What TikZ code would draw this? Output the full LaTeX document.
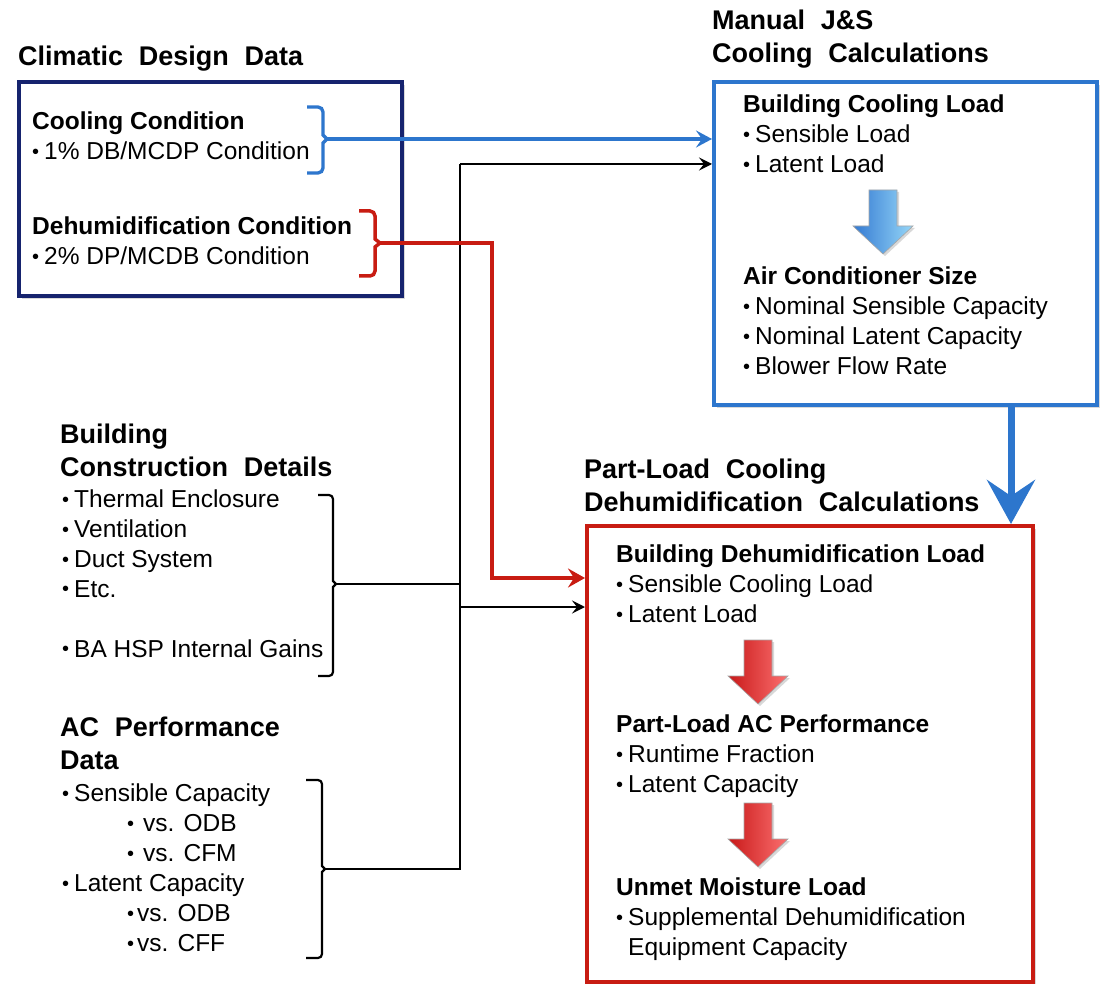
\documentclass[tikz,border=0pt]{standalone}
\usepackage{fontspec}
\setmainfont{Liberation Sans}
\newfontfamily\headfont{Liberation Sans}[WordSpace=2.1]
\usetikzlibrary{arrows.meta,shadows,calc}

\definecolor{navy}{RGB}{22,35,110}
\definecolor{cblue}{RGB}{45,118,205}
\definecolor{cred}{RGB}{200,28,18}
\definecolor{gbluel}{RGB}{52,122,210}
\definecolor{gbluer}{RGB}{150,215,248}
\definecolor{gredl}{RGB}{200,25,25}
\definecolor{gredr}{RGB}{252,112,112}

% text lines inside a block
\newcommand\bdot{\raisebox{1pt}{\fontsize{20}{20}\selectfont\textbullet}}
\newcommand\itm[1]{\hbox{\makebox[12pt][l]{\bdot}#1}}
\newcommand\sub[2]{\hbox{\hspace{65pt}\bdot\hspace{#1}#2}}
\newcommand\hd[1]{\hbox{\bfseries #1}}
\newcommand\pl[1]{\hbox{#1}}
\newcommand\blk[1]{\vtop{#1}}

\tikzset{
  body/.style={anchor=base west, inner sep=0pt, font=\fontsize{24.5}{30}\selectfont},
  head/.style={anchor=base west, inner sep=0pt, font=\headfont\bfseries\fontsize{27}{33}\selectfont},
  frame/.style={draw=#1, line width=4pt, fill=white, inner sep=0pt, anchor=north west,
    drop shadow={shadow xshift=3pt, shadow yshift=-3pt, opacity=.3}},
  bluecon/.style={draw=cblue, line width=3.3pt, -{Stealth[length=16pt,width=17pt,inset=6pt]}},
  redcon/.style={draw=cred, line width=4pt, line join=miter, -{Stealth[length=17pt,width=19pt,inset=6pt]}},
  blkcon/.style={draw=black, line width=2.4pt},
  blkarrow/.style={blkcon, -{Stealth[length=13pt,width=13pt,inset=5pt]}},
  bigarrow/.style={draw=cblue, line width=7pt, -{Stealth[length=44pt,width=48pt,inset=16pt]}},
  brace/.style={line width=#1, line join=miter},
  flowarrow/.style={draw=black!35, line width=0.6pt,
    drop shadow={shadow xshift=2pt, shadow yshift=-2pt, opacity=.3}},
}

\begin{document}
\begin{tikzpicture}[x=1pt, y=-1pt]
\useasboundingbox (0,0) rectangle (1101,984);

% ---------- boxes ----------
\node[frame=navy, minimum width=383pt, minimum height=214pt] (cdd) at (17,80) {};
\node[frame=cblue, minimum width=383pt, minimum height=323pt] (js) at (712,80) {};
\node[frame=cred, minimum width=446pt, minimum height=456pt] (pl) at (585,524) {};

% ---------- headings ----------
\node[head] (hcdd) at (18,66) {Climatic Design Data};
\node[head] (hjs) at (712,30) {\blk{\pl{Manual J\&S}\pl{Cooling Calculations}}};
\node[head] (hpl) at (584,478) {\blk{\pl{Part-Load Cooling}\pl{Dehumidification Calculations}}};
\node[head] (hbcd) at (60,443) {\blk{\pl{Building}\pl{Construction Details}}};
\node[head] (hac) at (60,736) {\blk{\pl{AC Performance}\pl{Data}}};

% ---------- climatic design data ----------
\node[body] (cool) at (32,130) {\blk{\hd{Cooling Condition}\itm{1\% DB/MCDP Condition}}};
\node[body] (dehu) at (32,235) {\blk{\hd{Dehumidification Condition}\itm{2\% DP/MCDB Condition}}};

% ---------- left lists ----------
\node[body] (bcd) at (62,507) {\blk{%
  \itm{Thermal Enclosure}\itm{Ventilation}\itm{Duct System}\itm{Etc.}\pl{}%
  \itm{BA HSP Internal Gains}}};
\node[body] (acd) at (62,801) {\blk{%
  \itm{Sensible Capacity}\sub{9pt}{vs. ODB}\sub{9pt}{vs. CFM}%
  \itm{Latent Capacity}\sub{3pt}{vs. ODB}\sub{3pt}{vs. CFF}}};

% ---------- Manual J&S contents ----------
\node[body] (bcl) at (743,113) {\blk{\hd{Building Cooling Load}\itm{Sensible Load}\itm{Latent Load}}};
\node[body] (acs) at (743,285) {\blk{\hd{Air Conditioner Size}\itm{Nominal Sensible Capacity}%
  \itm{Nominal Latent Capacity}\itm{Blower Flow Rate}}};
\path[flowarrow, left color=gbluel, right color=gbluer]
  (869,190) -- (897,190) -- (897,226) -- (913,226) -- (883,254) -- (853,226) -- (869,226) -- cycle;

% ---------- part-load contents ----------
\node[body] (bdl) at (616,562) {\blk{\hd{Building Dehumidification Load}\itm{Sensible Cooling Load}\itm{Latent Load}}};
\node[body] (pac) at (616,732) {\blk{\hd{Part-Load AC Performance}\itm{Runtime Fraction}\itm{Latent Capacity}}};
\node[body] (uml) at (616,895) {\blk{\hd{Unmet Moisture Load}\itm{Supplemental Dehumidification}%
  \pl{\hspace{12pt}Equipment Capacity}}};
\path[flowarrow, left color=gredl, right color=gredr]
  (744,640) -- (772,640) -- (772,676) -- (788,676) -- (758,704) -- (728,676) -- (744,676) -- cycle;
\path[flowarrow, left color=gredl, right color=gredr]
  (744,803) -- (772,803) -- (772,839) -- (788,839) -- (758,867) -- (728,839) -- (744,839) -- cycle;

% ---------- brackets ----------
\coordinate (cooltip) at (327,139);
\coordinate (dehutip) at (380,243);
\coordinate (bcdtip) at (336,584);
\coordinate (acdtip) at (325,869);
\draw[cblue, brace=3.3pt] (307,107) -- (318,107) to[out=0,in=90] (323,112) -- (323,135) -- (cooltip)
  -- (323,143) -- (323,168) to[out=-90,in=0] (318,173) -- (307,173);
\draw[cred, brace=3.5pt] (359,211) -- (370,211) to[out=0,in=90] (375,216) -- (375,239) -- (dehutip)
  -- (375,247) -- (375,271) to[out=-90,in=0] (370,276) -- (359,276);
\draw[black, brace=2.2pt] (318,495) -- (329,495) to[out=0,in=90] (333,499) -- (333,581) -- (bcdtip)
  -- (333,587) -- (333,672) to[out=-90,in=0] (329,676) -- (318,676);
\draw[black, brace=2.2pt] (306,780) -- (318,780) to[out=0,in=90] (322,784) -- (322,866) -- (acdtip)
  -- (322,872) -- (322,954) to[out=-90,in=0] (318,958) -- (306,958);

% ---------- connectors ----------
\coordinate (trunk) at (460,164);
\coordinate (tap) at (460,607);
\coordinate (redx) at (492,578);
\coordinate (down) at (1011,0);

\draw[bluecon] (cooltip) -- (cooltip -| js.west);
\draw[blkcon] (acdtip) -- (acdtip -| trunk) -- (trunk);
\draw[blkcon] (bcdtip) -- (bcdtip -| trunk);
\draw[blkarrow] (trunk) -- (trunk -| js.west);
\draw[blkarrow] (tap) -- (tap -| pl.west);
\draw[redcon] (dehutip) -- (dehutip -| redx) -- (redx) -- (redx -| pl.west);
\draw[bigarrow] (down |- js.south) -- (down |- pl.north);
\end{tikzpicture}
\end{document}
